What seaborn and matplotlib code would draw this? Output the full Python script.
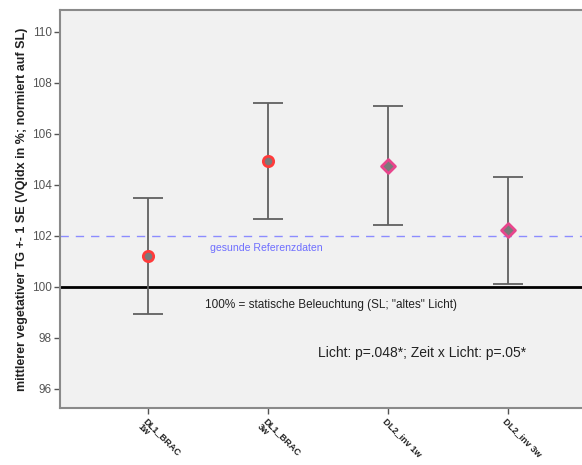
import matplotlib
matplotlib.use("Agg")
import matplotlib.pyplot as plt
import seaborn as sns
import pandas as pd
import numpy as np

categories = ["DL1_BRAC\n1w", "DL1_BRAC\n3w", "DL2_inv 1w", "DL2_inv 3w"]
means = [101.22, 104.94, 104.75, 102.24]
upper = [103.49, 107.22, 107.10, 104.31]
lower = [98.94, 102.67, 102.43, 100.12]
markers = ["o", "o", "D", "D"]
edgecolors = ["#ff3b3b", "#ff3b3b", "#e8458c", "#e8458c"]
yticks = [96, 98, 100, 102, 104, 106, 108, 110]

sns.set_style("white")
plt.rcParams['font.family'] = ['Liberation Sans', 'DejaVu Sans']

df = pd.DataFrame({"cat": categories, "mean": means, "upper": upper, "lower": lower})
pos = np.arange(len(categories))

fig = plt.figure(figsize=(5.82, 4.65), dpi=100)
ax = fig.add_axes([0.1031, 0.1226, 0.8969, 0.8559])
ax.set_facecolor("#f1f1f1")

ax.axhline(100, color="black", lw=2, zorder=2)
ax.axhline(102, color="#8c8cff", lw=1, dashes=(6, 5), zorder=2)

yerr = [df["mean"] - df["lower"], df["upper"] - df["mean"]]
ax.errorbar(pos, df["mean"], yerr=yerr, fmt="none", ecolor="#606060",
            elinewidth=1.3, capsize=10.8, capthick=1.3, zorder=3)

for i in range(len(categories)):
    sns.scatterplot(x=[pos[i]], y=[means[i]], marker=markers[i], s=55 if markers[i] == "o" else 50,
                    color="#7a7a7a", edgecolor=edgecolors[i], linewidth=2, ax=ax, zorder=4)

ax.text(0.983, 101.53, "gesunde Referenzdaten", color="#6f6fff", fontsize=7.6, ha="center", va="center")
ax.text(0.475, 99.29, "100% = statische Beleuchtung (SL; \"altes\" Licht)", color="#222222",
        fontsize=8.5, ha="left", va="center")
ax.text(1.42, 97.41, "Licht: p=.048*; Zeit x Licht: p=.05*", color="#222222",
        fontsize=10, ha="left", va="center")

ax.set_xlim(-0.733, 3.617)
ax.set_ylim(95.25, 110.86)
ax.set_yticks(yticks)
ax.set_yticklabels([str(t) for t in yticks], fontsize=8.5, color="#555555")
ax.set_xticks(pos)
ax.set_xticklabels(categories, rotation=-45, ha="left", va="top", rotation_mode="anchor",
                   fontsize=6.6, fontweight="bold", color="#222222", linespacing=0.9)
ax.tick_params(axis="both", which="both", length=4, width=1, color="#555555", direction="out",
               left=True, bottom=True, pad=2)
ax.set_ylabel("mittlerer vegetativer TG +- 1 SE (VQidx in %; normiert auf SL)", fontsize=9,
              fontweight="bold", color="#222222", labelpad=3)
ax.set_xlabel("")

for side in ["left", "top", "bottom"]:
    ax.spines[side].set_color("#8a8a8a")
    ax.spines[side].set_linewidth(1.5)
ax.spines["right"].set_visible(False)

fig.savefig("out.png", dpi=100)
